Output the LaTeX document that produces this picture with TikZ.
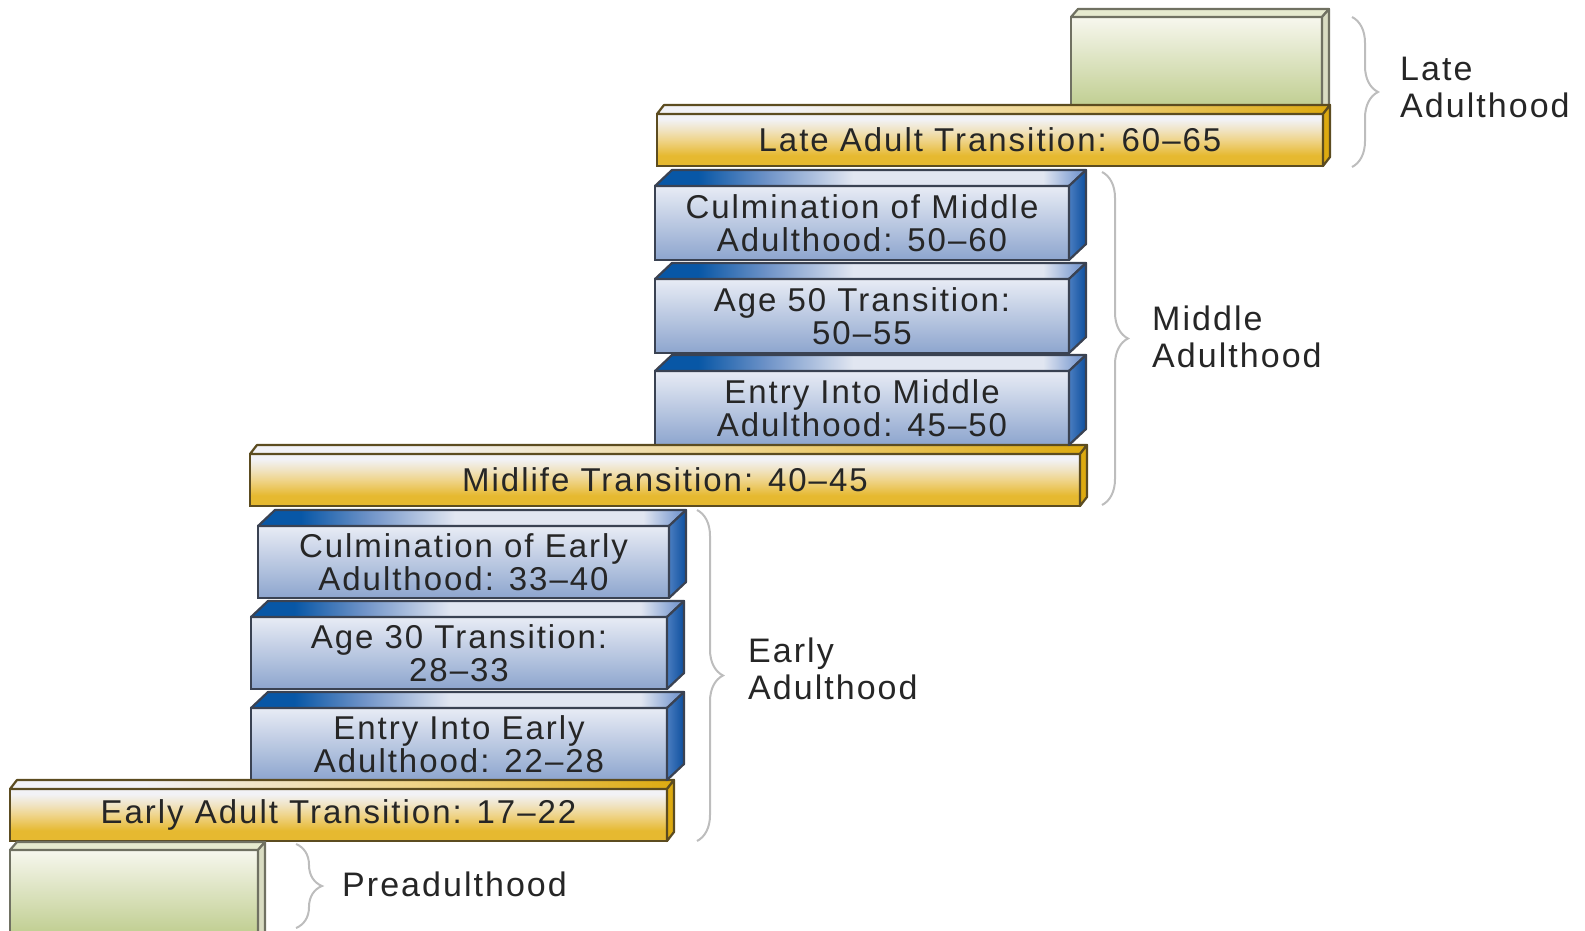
\documentclass[tikz,border=0pt]{standalone}
\usepackage{fontspec}
\setmainfont{Liberation Sans}[LetterSpace=6]
\usepackage{tikz}
\usetikzlibrary{decorations.pathreplacing,calc}

\definecolor{textgray}{HTML}{262626}
\definecolor{bracegray}{HTML}{BDBDBD}
\definecolor{goldline}{HTML}{5C4C20}
\definecolor{gtop}{HTML}{F2F2F6}
\definecolor{glight}{HTML}{F0E4C4}
\definecolor{gmid}{HTML}{EFD48A}
\definecolor{gbot}{HTML}{E6B930}
\definecolor{gdark}{HTML}{DDAA10}
\definecolor{blueline}{HTML}{3A4252}
\definecolor{bfronttop}{HTML}{E8ECF5}
\definecolor{bfrontbot}{HTML}{8DA5CE}
\definecolor{bdark}{HTML}{0857A6}
\definecolor{bmid}{HTML}{6F93C8}
\definecolor{bpale}{HTML}{E1E6F1}
\definecolor{bedge}{HTML}{7F9ED2}
\definecolor{bsidea}{HTML}{4A7DC0}
\definecolor{bsideb}{HTML}{0D4F9E}
\definecolor{greenline}{HTML}{707162}
\definecolor{grtop}{HTML}{F7F7EE}
\definecolor{grbot}{HTML}{BCCB8A}
\definecolor{grface}{HTML}{E6EACF}
\definecolor{grside}{HTML}{D9DCC2}

\pgfdeclareverticalshading{goldfront}{100bp}{color(0bp)=(gbot); color(35bp)=(gbot); color(50bp)=(gmid); color(60bp)=(glight); color(70bp)=(gtop); color(100bp)=(gtop)}
\pgfdeclarehorizontalshading{goldtop}{100bp}{color(0bp)=(gtop); color(35bp)=(gtop); color(55bp)=(gmid); color(75bp)=(gdark); color(100bp)=(gdark)}
\pgfdeclarehorizontalshading{bluetop}{100bp}{color(0bp)=(bdark); color(30bp)=(bdark); color(38bp)=(bmid); color(48bp)=(bpale); color(70bp)=(bpale); color(74bp)=(bedge); color(100bp)=(bedge)}

\begin{document}
\begin{tikzpicture}[
			x=1pt, y=1pt,
			every node/.style = {font=\fontsize{33}{33}\selectfont, text=textgray},
			front/.style = {rectangle, line width=2.2pt, inner sep=0pt, outer sep=0pt, align=center},
			goldbar/.style = {front, draw=goldline, shade, shading=goldfront, minimum height=52},
			bluebox/.style = {front, draw=blueline, top color=bfronttop, bottom color=bfrontbot, minimum height=74},
			greenbox/.style = {front, draw=greenline, top color=grtop, bottom color=grbot},
			face/.style = {line width=2.2pt, line join=round},
			agebrace/.style = {draw=bracegray, line width=2pt, decorate, decoration={brace, amplitude=26pt, aspect=0.5}},
			stagelabel/.style = {anchor=west, align=left, inner sep=0pt, font=\fontsize{34}{37}\selectfont}
			]
			\useasboundingbox (0,0) rectangle (1585,930);
			\clip (0,0) rectangle (1585,930);

			\node[greenbox, minimum width=251, minimum height=96] (late) at (1196.5,865) {};
			\node[greenbox, minimum width=248, minimum height=90] (pre) at (134,35) {};

			\node[goldbar, minimum width=666] (latetr) at (990,790) {Late Adult Transition: 60–65};
			\node[goldbar, minimum width=830] (midtr) at (665,450) {Midlife Transition: 40–45};
			\node[goldbar, minimum width=657] (earlytr) at (338.5,115) {Early Adult Transition: 17–22};

			\node[bluebox, minimum width=414] (cmid) at (862,707) {Culmination of Middle\\Adulthood: 50–60};
			\node[bluebox, minimum width=414] (age50) at (862,614) {Age 50 Transition:\\50–55};
			\node[bluebox, minimum width=414] (emid) at (862,522) {Entry Into Middle\\Adulthood: 45–50};

			\node[bluebox, minimum width=411, minimum height=72] (cearly) at (463.5,368) {Culmination of Early\\Adulthood: 33–40};
			\node[bluebox, minimum width=416, minimum height=72] (age30) at (459,277) {Age 30 Transition:\\28–33};
			\node[bluebox, minimum width=416, minimum height=72] (eearly) at (459,186) {Entry Into Early\\Adulthood: 22–28};

			\foreach \n in {late,pre}{
				\filldraw[face, draw=greenline, fill=grface] (\n.north west) -- ++(7,8) -- ($(\n.north east)+(7,8)$) -- (\n.north east) -- cycle;
				\filldraw[face, draw=greenline, fill=grside] (\n.north east) -- ++(7,8) -- ($(\n.south east)+(7,8)$) -- (\n.south east) -- cycle;
			}
			\foreach \n in {latetr,midtr,earlytr}{
				\shadedraw[face, draw=goldline, shading=goldtop] (\n.north west) -- ++(7,9) -- ($(\n.north east)+(7,9)$) -- (\n.north east) -- cycle;
				\filldraw[face, draw=goldline, fill=gdark] (\n.north east) -- ++(7,9) -- ($(\n.south east)+(7,9)$) -- (\n.south east) -- cycle;
			}
			\foreach \n in {cmid,age50,emid,cearly,age30,eearly}{
				\shadedraw[face, draw=blueline, shading=bluetop] (\n.north west) -- ++(17,16) -- ($(\n.north east)+(17,16)$) -- (\n.north east) -- cycle;
				\shadedraw[face, draw=blueline, left color=bsidea, right color=bsideb] (\n.north east) -- ++(17,16) -- ($(\n.south east)+(17,16)$) -- (\n.south east) -- cycle;
			}

			\coordinate (latetop) at (1352,913);
			\coordinate (latebot) at (1352,763);
			\coordinate (midtop) at (1102,758);
			\coordinate (midbot) at (1102,425);
			\coordinate (earlytop) at (697,420);
			\coordinate (earlybot) at (697,89);
			\coordinate (pretop) at (296,86);
			\coordinate (prebot) at (296,2);

			\draw[agebrace] (latetop) -- (latebot);
			\draw[agebrace] (midtop) -- (midbot);
			\draw[agebrace] (earlytop) -- (earlybot);
			\draw[agebrace] (pretop) -- (prebot);

			\node[stagelabel] (latelab) at (1400,842.5) {Late\\Adulthood};
			\node[stagelabel] (midlab) at (1152,593) {Middle\\Adulthood};
			\node[stagelabel] (earlylab) at (748,261.5) {Early\\Adulthood};
			\node[stagelabel] (prelab) at (342,46) {Preadulthood};

		\end{tikzpicture}
\end{document}
